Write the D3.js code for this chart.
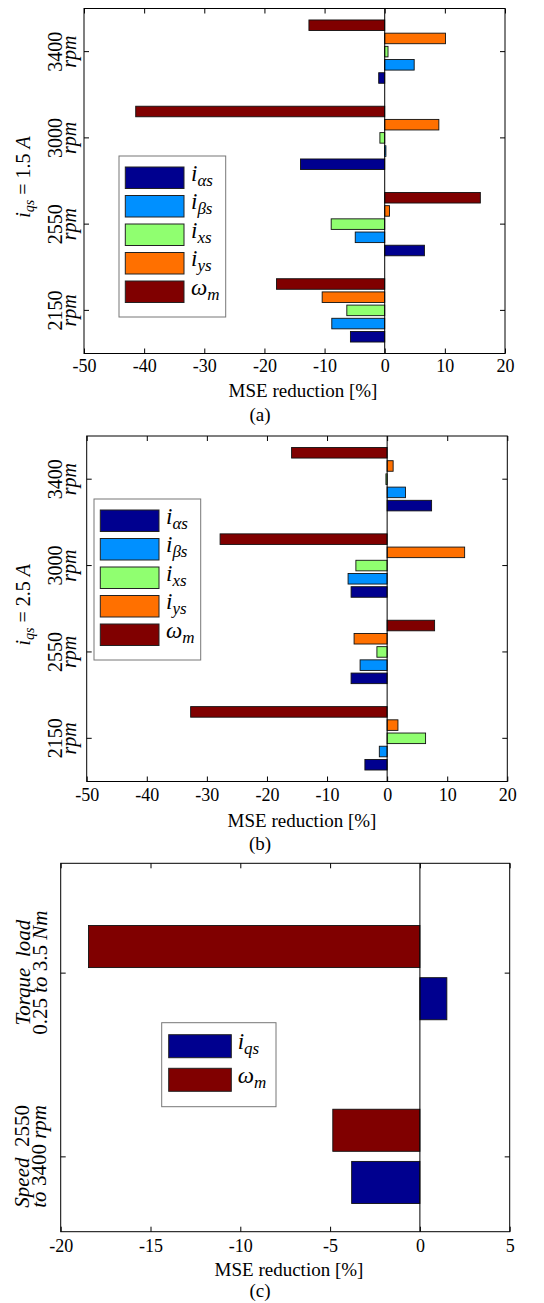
<!DOCTYPE html>
<html>
<head>
<meta charset="utf-8">
<script src="https://cdn.jsdelivr.net/npm/d3@7"></script>
<style>
  body { margin: 0; background: #fff; }
</style>
</head>
<body>
<div id="grafico"></div>
<script>
// categories (bottom to top, as in the figure)
const speeds = ["2150", "2550", "3000", "3400"];
const series = ["ias", "ibs", "ixs", "iys", "wm"];
const legendBase = ["i", "i", "i", "i", "\u03c9"];
const legendSub = ["\u03b1s", "\u03b2s", "xs", "ys", "m"];
const seriesColors = ["#00008f", "#0090ff", "#90ff70", "#ff7000", "#800000"];
const ticksAB = [-50, -40, -30, -20, -10, 0, 10, 20];

// (a) iqs = 1.5 A, values per speed [2150, 2550, 3000, 3400]
const a_ias = [-5.7, 6.6, -14.0, -1.0];
const a_ibs = [-8.8, -4.9, 0.2, 4.9];
const a_ixs = [-6.3, -8.9, -0.8, 0.55];
const a_iys = [-10.4, 0.8, 9.0, 10.1];
const a_wm = [-18.0, 15.9, -41.4, -12.6];

// (b) iqs = 2.5 A
const b_ias = [-3.7, -6.0, -6.0, 7.4];
const b_ibs = [-1.3, -4.5, -6.5, 3.05];
const b_ixs = [6.4, -1.7, -5.2, -0.2];
const b_iys = [1.8, -5.5, 12.9, 1.0];
const b_wm = [-32.7, 7.9, -27.8, -15.9];

// (c) transitions
const cases = ["speed", "torque"];   // y = 1, y = 2
const c_iqs = [-3.8, 1.5];
const c_wm = [-4.85, -18.45];
const ticksC = [-20, -15, -10, -5, 0, 5];

const FUENTE = "'Liberation Serif', 'Times New Roman', Times, serif";

const svg = d3.select("#grafico").append("svg")
  .attr("width", 544)
  .attr("height", 1303)
  .style("font-family", FUENTE);

function texto(sel) {
  return sel.append("text").style("font-family", FUENTE).style("white-space", "pre");
}

// caja, ticks hacia dentro, etiquetas del eje x y linea del cero
function marco(x, y, p, ticks, yTicks) {
  const ejeX = svg.append("g")
    .attr("transform", `translate(0,${p.bottom})`)
    .call(d3.axisBottom(x).tickValues(ticks).tickSize(-5).tickSizeOuter(0)
      .tickPadding(p.tickPad).tickFormat(d => String(d)));
  ejeX.attr("font-family", FUENTE).attr("font-size", 18);
  ejeX.selectAll("text").style("font-family", FUENTE).style("font-size", "18px").attr("fill", "#000");

  svg.append("g")
    .attr("transform", `translate(0,${p.top})`)
    .call(d3.axisTop(x).tickValues(ticks).tickSize(-5).tickSizeOuter(0).tickFormat(""));

  const izq = d3.axisLeft(y).tickSize(-5).tickSizeOuter(0).tickFormat("");
  const der = d3.axisRight(y).tickSize(-5).tickSizeOuter(0).tickFormat("");
  if (yTicks) { izq.tickValues(yTicks); der.tickValues(yTicks); }
  svg.append("g").attr("transform", `translate(${p.left},0)`).call(izq);
  svg.append("g").attr("transform", `translate(${p.right},0)`).call(der);

  svg.selectAll(".domain").remove();

  svg.append("line")
    .attr("x1", x(0)).attr("x2", x(0))
    .attr("y1", p.top).attr("y2", p.bottom)
    .attr("stroke", "#000");

  svg.append("rect")
    .attr("x", p.left).attr("y", p.top)
    .attr("width", p.right - p.left).attr("height", p.bottom - p.top)
    .attr("fill", "none").attr("stroke", "#000");

  texto(svg)
    .attr("x", p.labelX).attr("y", p.bottom + p.labelDy)
    .attr("text-anchor", "middle")
    .style("font-size", "19px")
    .text("MSE reduction [%]");

  texto(svg)
    .attr("x", 260).attr("y", p.bottom + p.capDy)
    .attr("text-anchor", "middle")
    .style("font-size", "19px")
    .text(p.caption);
}

function leyenda(lx, ly, w, h, items, sw) {
  const g = svg.append("g").attr("transform", `translate(${lx},${ly})`);
  g.append("rect").attr("width", w).attr("height", h)
    .attr("fill", "#fff").attr("stroke", "#777");
  items.forEach((it, i) => {
    const top = sw.top + i * sw.step;
    g.append("rect")
      .attr("x", sw.x).attr("y", top)
      .attr("width", sw.w).attr("height", sw.h)
      .attr("fill", it.color).attr("stroke", "#222");
    const t = texto(g)
      .attr("x", sw.tx).attr("y", top + sw.h / 2 + 3)
      .style("font-style", "italic").style("font-size", "23px");
    t.append("tspan").text(it.base);
    t.append("tspan").attr("dy", 5).style("font-size", "17px").text(it.sub);
  });
}

function panelAgrupado(p, valores, corriente) {
  const x = d3.scaleLinear().domain([-50, 20]).range([p.left, p.right]);
  const y = d3.scaleBand().domain(speeds.slice().reverse()).range([p.top, p.bottom]);
  const yIn = d3.scaleBand().domain(series.slice().reverse())
    .range([0, y.bandwidth()]).paddingInner(0.2).paddingOuter(0.87);

  series.forEach((s, i) => {
    svg.append("g").selectAll("rect")
      .data(valores[i])
      .enter()
      .append("rect")
      .attr("x", v => x(Math.min(0, v)))
      .attr("y", (v, j) => y(speeds[j]) + yIn(s))
      .attr("width", v => Math.abs(x(v) - x(0)))
      .attr("height", yIn.bandwidth())
      .attr("fill", seriesColors[i])
      .attr("stroke", "#111")
      .attr("stroke-width", 0.9);
  });

  marco(x, y, p, ticksAB);

  // etiquetas del eje y, giradas
  speeds.forEach(s => {
    const cy = y(s) + y.bandwidth() / 2;
    texto(svg)
      .attr("transform", `translate(62,${cy}) rotate(-90)`)
      .attr("text-anchor", "middle")
      .style("font-size", "20px")
      .text(s);
    texto(svg)
      .attr("transform", `translate(76,${cy}) rotate(-90)`)
      .attr("text-anchor", "middle")
      .style("font-size", "20px").style("font-style", "italic")
      .text("rpm");
  });

  const t = texto(svg)
    .attr("transform", `translate(30,${(p.top + p.bottom) / 2 - 4}) rotate(-90)`)
    .attr("text-anchor", "middle")
    .style("font-size", "20px");
  t.append("tspan").style("font-style", "italic").text("i");
  t.append("tspan").style("font-style", "italic").style("font-size", "14px").attr("dy", 4).text("qs");
  t.append("tspan").attr("dy", -4).text(" = " + corriente + " ");
  t.append("tspan").style("font-style", "italic").text("A");

  leyenda(p.legX, p.legY, 106.7, 161,
    series.map((s, i) => ({ base: legendBase[i], sub: legendSub[i], color: seriesColors[i] })),
    { x: 6.3, w: 58.7, h: 21.5, top: 11, step: 28.5, tx: 72 });
}

panelAgrupado({ top: 8.5, bottom: 353.5, left: 84, right: 505, tickPad: 6, labelX: 303, labelDy: 43, capDy: 67, caption: "(a)", legX: 119, legY: 156 },
  [a_ias, a_ibs, a_ixs, a_iys, a_wm], "1.5");

panelAgrupado({ top: 436, bottom: 781.5, left: 86.7, right: 507.3, tickPad: 7, labelX: 302, labelDy: 45, capDy: 68, caption: "(b)", legX: 94, legY: 499 },
  [b_ias, b_ibs, b_ixs, b_iys, b_wm], "2.5");

// (c)
const pc = { top: 863.3, bottom: 1231.7, left: 60.7, right: 509.7, tickPad: 7.5, labelX: 289, labelDy: 44, capDy: 65, caption: "(c)" };
const xC = d3.scaleLinear().domain([-20, 5]).range([pc.left, pc.right]);
const yC = d3.scaleLinear().domain([0.59, 2.595]).range([pc.bottom, pc.top]);
const altoBarra = 0.229;
const seriesC = [
  { vals: c_iqs, off: -0.142, color: seriesColors[0] },
  { vals: c_wm, off: 0.142, color: seriesColors[4] }
];
seriesC.forEach(sc => {
  svg.append("g").selectAll("rect")
    .data(sc.vals)
    .enter()
    .append("rect")
    .attr("x", v => xC(Math.min(0, v)))
    .attr("y", (v, j) => yC(j + 1 + sc.off + altoBarra / 2))
    .attr("width", v => Math.abs(xC(v) - xC(0)))
    .attr("height", (v, j) => yC(j + 1 + sc.off - altoBarra / 2) - yC(j + 1 + sc.off + altoBarra / 2))
    .attr("fill", sc.color)
    .attr("stroke", "#111")
    .attr("stroke-width", 0.9);
});

marco(xC, yC, pc, ticksC, [1, 2]);

// etiquetas del eje y en (c)
function lineaRot(x, y, partes) {
  const t = texto(svg)
    .attr("transform", `translate(${x},${y}) rotate(-90)`)
    .attr("text-anchor", "middle")
    .style("font-size", "21px");
  partes.forEach(([txt, it]) => {
    t.append("tspan").style("font-style", it ? "italic" : "normal").text(txt);
  });
}
lineaRot(30, yC(2), [["Torque  load", true]]);
lineaRot(47, yC(2), [["0.25 ", false], ["to", true], [" 3.5 ", false], ["Nm", true]]);
lineaRot(29, yC(1), [["Speed", true], ["  2550", false]]);
lineaRot(46, yC(1), [["to", true], [" 3400 ", false], ["rpm", true]]);

leyenda(161.7, 1022.7, 114.3, 84,
  [{ base: "i", sub: "qs", color: seriesColors[0] }, { base: "\u03c9", sub: "m", color: seriesColors[4] }],
  { x: 7, w: 62.6, h: 23, top: 12, step: 33.6, tx: 76 });
</script>
</body>
</html>
